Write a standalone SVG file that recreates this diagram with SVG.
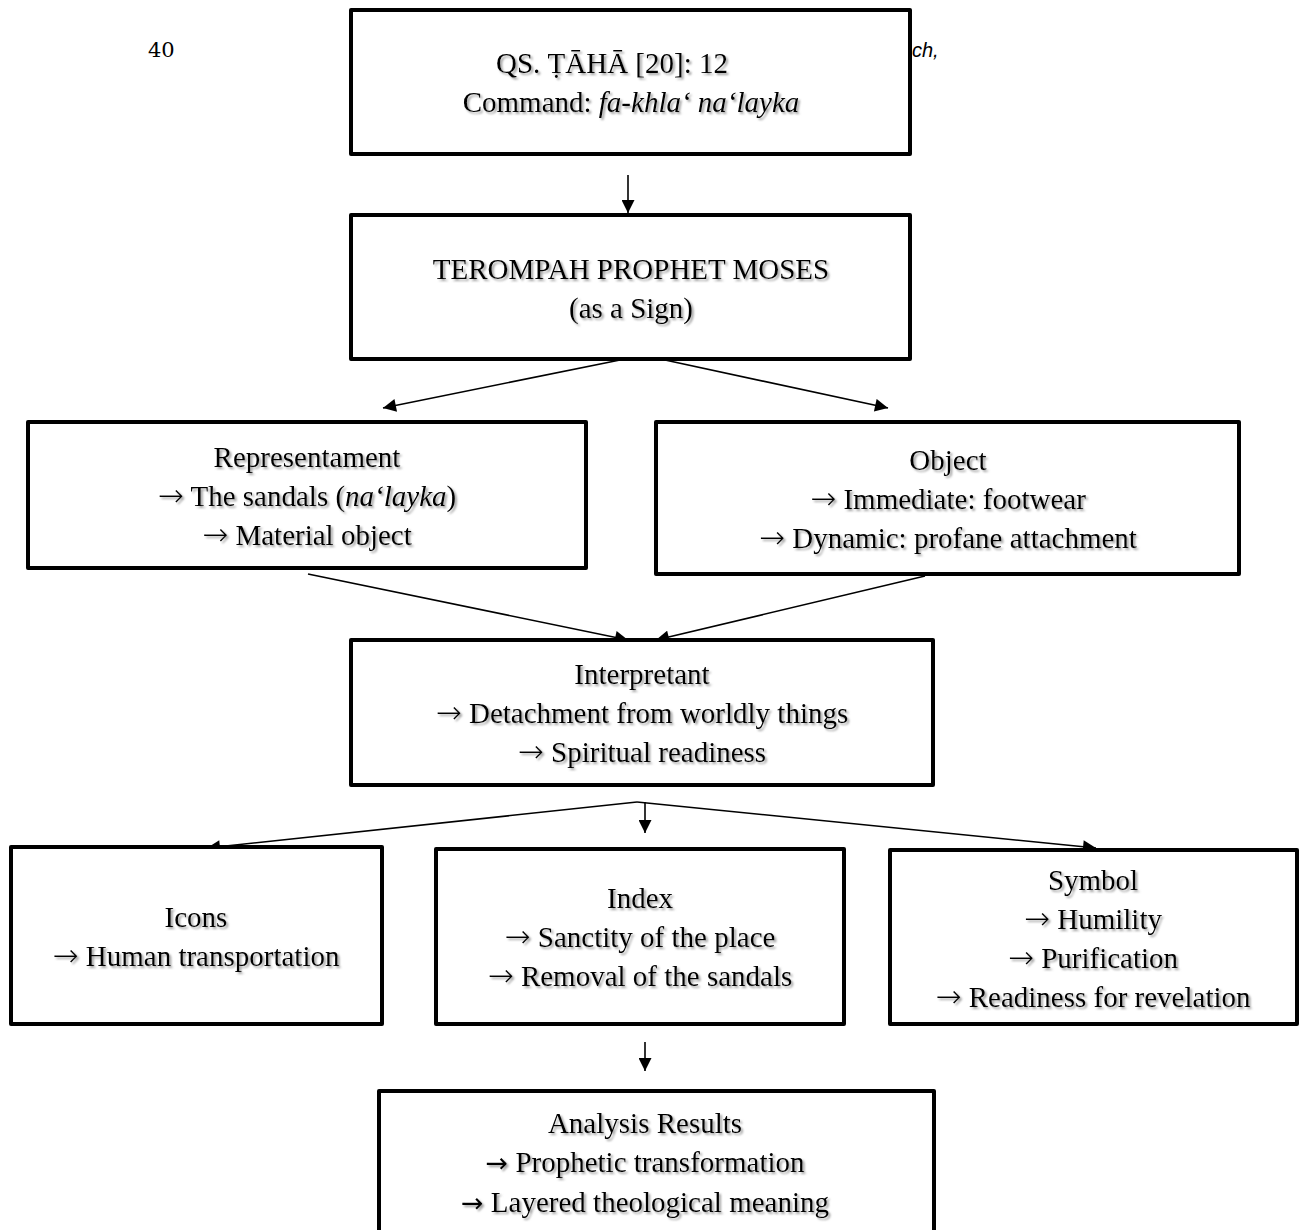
<svg xmlns="http://www.w3.org/2000/svg" width="1301" height="1230" viewBox="0 0 1301 1230">
<defs>
<style>
.box{fill:#fff;stroke:#000;stroke-width:4;stroke-linejoin:round}
.t{font-family:"Liberation Serif","Times New Roman",serif;font-size:29px;fill:#000;text-anchor:middle;filter:url(#sh)}
.a{font-family:"DejaVu Sans",sans-serif;font-size:31px;font-weight:200}
.b{font-family:"DejaVu Sans",sans-serif;font-size:27px}
.c{stroke:#000;stroke-width:1.6;fill:none}
</style>
<filter id="sh" x="-5%" y="-30%" width="110%" height="160%">
<feDropShadow dx="2" dy="2" stdDeviation="1.2" flood-color="#777" flood-opacity="0.7"/>
</filter>
<marker id="ah" viewBox="0 0 10 10" refX="10" refY="5" markerWidth="15" markerHeight="13" markerUnits="userSpaceOnUse" orient="auto">
<path d="M0,0 L10,5 L0,10 z" fill="#000"/>
</marker>
</defs>
<rect width="1301" height="1230" fill="#fff"/>
<text x="148" y="57" font-family="'DejaVu Serif',serif" font-size="21">40</text>
<text x="912" y="57" font-family="'Liberation Sans',sans-serif" font-style="italic" font-size="20">ch,</text>

<g id="connectors">
<line class="c" x1="628" y1="175" x2="628" y2="213" marker-end="url(#ah)"/>
<line class="c" x1="620" y1="360" x2="383" y2="408" marker-end="url(#ah)"/>
<line class="c" x1="665" y1="360" x2="888" y2="408" marker-end="url(#ah)"/>
<line class="c" x1="308" y1="574" x2="628" y2="640" marker-end="url(#ah)"/>
<line class="c" x1="925" y1="576" x2="656" y2="640" marker-end="url(#ah)"/>
<line class="c" x1="637" y1="802" x2="207" y2="848" marker-end="url(#ah)"/>
<line class="c" x1="645" y1="802" x2="645" y2="833" marker-end="url(#ah)"/>
<line class="c" x1="637" y1="802" x2="1096" y2="848" marker-end="url(#ah)"/>
<line class="c" x1="645" y1="1042" x2="645" y2="1071" marker-end="url(#ah)"/>
</g>

<g id="n1">
<rect class="box" x="351" y="10" width="559" height="144"/>
<text class="t" x="612" y="73">QS. ṬĀHĀ [20]: 12</text>
<text class="t" x="631" y="112">Command: <tspan font-style="italic">fa-khla‘ na‘layka</tspan></text>
</g>
<g id="n2">
<rect class="box" x="351" y="215" width="559" height="144"/>
<text class="t" x="631" y="279">TEROMPAH PROPHET MOSES</text>
<text class="t" x="631" y="318">(as a Sign)</text>
</g>
<g id="n3">
<rect class="box" x="28" y="422" width="558" height="146"/>
<text class="t" x="307" y="467">Representament</text>
<text class="t" x="307" y="506"><tspan class="a">→</tspan> The sandals (<tspan font-style="italic">na‘layka</tspan>)</text>
<text class="t" x="307" y="545"><tspan class="a">→</tspan> Material object</text>
</g>
<g id="n4">
<rect class="box" x="656" y="422" width="583" height="152"/>
<text class="t" x="948" y="470">Object</text>
<text class="t" x="948" y="509"><tspan class="a">→</tspan> Immediate: footwear</text>
<text class="t" x="948" y="548"><tspan class="a">→</tspan> Dynamic: profane attachment</text>
</g>
<g id="n5">
<rect class="box" x="351" y="640" width="582" height="145"/>
<text class="t" x="642" y="684">Interpretant</text>
<text class="t" x="642" y="723"><tspan class="a">→</tspan> Detachment from worldly things</text>
<text class="t" x="642" y="762"><tspan class="a">→</tspan> Spiritual readiness</text>
</g>
<g id="n6">
<rect class="box" x="11" y="847" width="371" height="177"/>
<text class="t" x="196" y="927">Icons</text>
<text class="t" x="196" y="966"><tspan class="a">→</tspan> Human transportation</text>
</g>
<g id="n7">
<rect class="box" x="436" y="849" width="408" height="175"/>
<text class="t" x="640" y="908">Index</text>
<text class="t" x="640" y="947"><tspan class="a">→</tspan> Sanctity of the place</text>
<text class="t" x="640" y="986"><tspan class="a">→</tspan> Removal of the sandals</text>
</g>
<g id="n8">
<rect class="box" x="890" y="850" width="407" height="174"/>
<text class="t" x="1093" y="890">Symbol</text>
<text class="t" x="1093" y="929"><tspan class="a">→</tspan> Humility</text>
<text class="t" x="1093" y="968"><tspan class="a">→</tspan> Purification</text>
<text class="t" x="1093" y="1007"><tspan class="a">→</tspan> Readiness for revelation</text>
</g>
<g id="n9">
<rect class="box" x="379" y="1091" width="555" height="160"/>
<text class="t" x="645" y="1133">Analysis Results</text>
<text class="t" x="645" y="1172"><tspan class="b">→</tspan> Prophetic transformation</text>
<text class="t" x="645" y="1212"><tspan class="b">→</tspan> Layered theological meaning</text>
</g>
</svg>
